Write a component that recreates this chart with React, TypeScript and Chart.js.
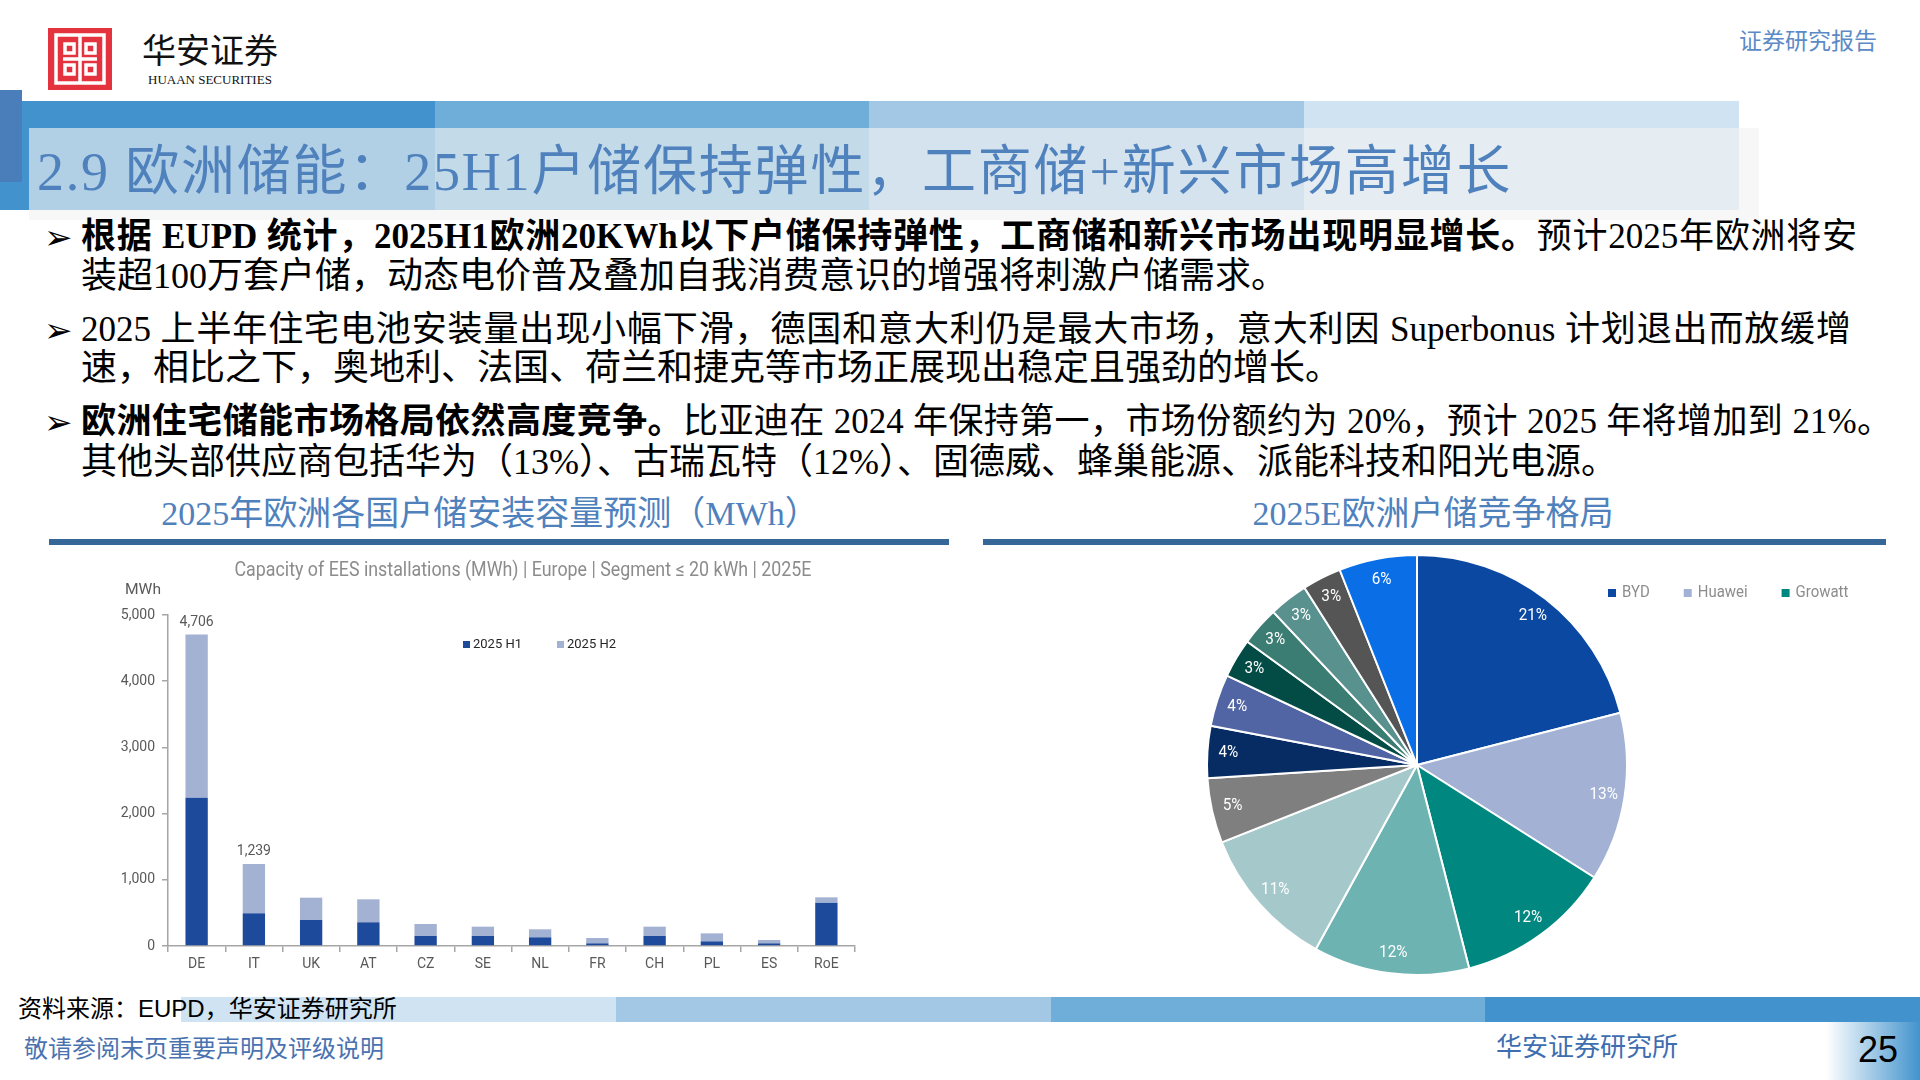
import React, { useEffect, useRef } from 'react';
import { Chart, registerables } from 'chart.js';

Chart.register(...registerables);

// ---------- Bar chart data ----------
const countries = ['DE', 'IT', 'UK', 'AT', 'CZ', 'SE', 'NL', 'FR', 'CH', 'PL', 'ES', 'RoE'];
const h1Values = [2240, 494, 393, 358, 151, 151, 131, 40, 151, 70, 40, 655];
const h2Values = [2466, 745, 337, 347, 181, 141, 121, 81, 141, 121, 51, 80];
const seriesNames = ['2025 H1', '2025 H2'];
const annotatedCountries = ['DE', 'IT'];
const yMax = 5000;
const yStep = 1000;
const barTitle = 'Capacity of EES installations (MWh) | Europe | Segment \u2264 20 kWh | 2025E';
const yUnit = 'MWh';

// ---------- Pie chart data ----------
const vendors = ['BYD', 'Huawei', 'Growatt', 'Vendor 4', 'Vendor 5', 'Vendor 6', 'Vendor 7', 'Vendor 8', 'Vendor 9', 'Vendor 10', 'Vendor 11', 'Vendor 12', 'Others'];
const shares = [21, 13, 12, 12, 11, 5, 4, 4, 3, 3, 3, 3, 6];
const legendVendors = ['BYD', 'Huawei', 'Growatt'];

const barColors = ['#1E4A9B', '#A3B1D2'];
const pieColors = ['#0B48A2', '#A3B2D4', '#00877F', '#6DB3B1', '#A5C8CA', '#7F7F7F', '#062C63', '#5165A5', '#024C45', '#3B7C73', '#59918F', '#555555', '#0A6FE6'];

const serif = '"Liberation Serif", "Noto Sans CJK SC", serif';
const sans = '"Liberation Sans", "Noto Sans CJK SC", sans-serif';
const cjk = '"Noto Sans CJK SC", sans-serif';

function fitText(ctx: CanvasRenderingContext2D, text: string, x: number, y: number, width: number) {
  const w = ctx.measureText(text).width;
  ctx.save();
  ctx.translate(x, y);
  ctx.scale(width / w, 1);
  ctx.fillText(text, 0, 0);
  ctx.restore();
}

const barExtras = {
  id: 'barExtras',
  afterDraw(chart: any) {
    const ctx: CanvasRenderingContext2D = chart.ctx;
    const area = chart.chartArea;
    ctx.save();
    ctx.textBaseline = 'middle';
    // chart title
    ctx.fillStyle = '#8C8C8C';
    ctx.font = '20px Roboto';
    ctx.textAlign = 'center';
    fitText(ctx, barTitle, area.left + 355, 21, 577);
    // unit
    ctx.fillStyle = '#595959';
    ctx.font = '15px Roboto';
    ctx.textAlign = 'left';
    fitText(ctx, yUnit, 25, 40, 36);
    // total labels
    ctx.textAlign = 'center';
    ctx.font = '14px Roboto';
    const meta = chart.getDatasetMeta(1);
    annotatedCountries.forEach((c) => {
      const i = countries.indexOf(c);
      const el = meta.data[i];
      const total = h1Values[i] + h2Values[i];
      ctx.fillText(total.toLocaleString('en-US'), el.x, el.y - 12);
    });
    // legend
    ctx.textAlign = 'left';
    ctx.font = '13px Roboto';
    let lx = area.left + 295;
    const ly = area.top + 30;
    seriesNames.forEach((name, k) => {
      ctx.fillStyle = barColors[k];
      ctx.fillRect(lx, ly - 4, 7, 7);
      ctx.fillStyle = '#262626';
      ctx.fillText(name, lx + 10, ly);
      lx += 94;
    });
    ctx.restore();
  },
};

const pieExtras = {
  id: 'pieExtras',
  afterDraw(chart: any) {
    const ctx: CanvasRenderingContext2D = chart.ctx;
    const meta = chart.getDatasetMeta(0);
    ctx.save();
    ctx.textBaseline = 'middle';
    ctx.textAlign = 'center';
    ctx.font = '17px Roboto';
    ctx.fillStyle = '#FFFFFF';
    meta.data.forEach((arc: any, i: number) => {
      const p = arc.getProps(['x', 'y', 'startAngle', 'endAngle', 'outerRadius']);
      const mid = (p.startAngle + p.endAngle) / 2;
      const r = p.outerRadius * 0.9;
      const tx = p.x + Math.cos(mid) * r;
      const ty = p.y + Math.sin(mid) * r;
      fitText(ctx, shares[i] + '%', tx, ty, ctx.measureText(shares[i] + '%').width * 0.9);
    });
    // legend
    ctx.textAlign = 'left';
    ctx.font = '17px Roboto';
    let lx = 458;
    const ly = 48;
    legendVendors.forEach((name) => {
      const idx = vendors.indexOf(name);
      ctx.fillStyle = pieColors[idx];
      ctx.fillRect(lx, ly - 4, 8, 8);
      ctx.fillStyle = '#8C8C8C';
      const w = ctx.measureText(name).width * 0.88;
      fitText(ctx, name, lx + 14, ly, w);
      lx += 14 + w + 34;
    });
    ctx.restore();
  },
};

function BarChart() {
  const ref = useRef<HTMLCanvasElement>(null);
  useEffect(() => {
    const canvas = ref.current as HTMLCanvasElement;
    const chart = new Chart(canvas, {
      type: 'bar',
      data: {
        labels: countries,
        datasets: [
          { label: seriesNames[0], data: h1Values, backgroundColor: barColors[0], barPercentage: 0.39, categoryPercentage: 1 },
          { label: seriesNames[1], data: h2Values, backgroundColor: barColors[1], barPercentage: 0.39, categoryPercentage: 1 },
        ],
      },
      options: {
        animation: false,
        responsive: false,
        layout: { padding: { top: 65, right: 15, left: 0, bottom: 0 } },
        plugins: { legend: { display: false }, title: { display: false }, tooltip: { enabled: false } },
        scales: {
          x: {
            stacked: true,
            grid: { display: true, drawOnChartArea: false, offset: true, tickLength: 6, color: '#A6A6A6', lineWidth: 1.5 },
            border: { color: '#A6A6A6', width: 1.5 },
            ticks: { color: '#595959', font: { size: 14, family: 'Roboto' }, padding: 4 },
            afterFit: (s: any) => { s.height = 34; },
          },
          y: {
            stacked: true,
            min: 0,
            max: yMax,
            grid: { drawOnChartArea: false, tickLength: 6, color: '#A6A6A6', lineWidth: 1.5 },
            border: { color: '#A6A6A6', width: 1.5 },
            ticks: {
              stepSize: yStep,
              color: '#595959',
              font: { size: 14, family: 'Roboto' },
              padding: 7,
              callback: (v: any) => Number(v).toLocaleString('en-US'),
            },
            afterFit: (s: any) => { s.width = 68; },
          },
        },
      },
      plugins: [barExtras],
    } as any);
    return () => chart.destroy();
  }, []);
  return <canvas ref={ref} width={770} height={430} style={{ position: 'absolute', left: 100, top: 550, width: 770, height: 430 }} />;
}

function PieChart() {
  const ref = useRef<HTMLCanvasElement>(null);
  useEffect(() => {
    const canvas = ref.current as HTMLCanvasElement;
    const chart = new Chart(canvas, {
      type: 'pie',
      data: {
        labels: vendors,
        datasets: [{ data: shares, backgroundColor: pieColors, borderColor: '#FFFFFF', borderWidth: 2 }],
      },
      options: {
        animation: false,
        responsive: false,
        radius: 210,
        layout: { padding: { left: 0, top: 0, right: 226, bottom: 10 } },
        plugins: { legend: { display: false }, tooltip: { enabled: false } },
      },
      plugins: [pieExtras],
    } as any);
    return () => chart.destroy();
  }, []);
  return <canvas ref={ref} width={760} height={450} style={{ position: 'absolute', left: 1150, top: 545, width: 760, height: 450 }} />;
}

function Logo() {
  return (
    <svg width={64} height={62} viewBox="0 0 64 62" style={{ position: 'absolute', left: 48, top: 28 }}>
      <rect x={0} y={0} width={64} height={62} fill="#E5323F" />
      <g fill="none" stroke="#FFFFFF" strokeWidth={3.5}>
        <rect x={8} y={7} width={48} height={48} />
        <line x1={32} y1={7} x2={32} y2={55} />
        <line x1={15} y1={31} x2={49} y2={31} />
        <rect x={17} y={16} width={9} height={9} />
        <rect x={38} y={16} width={9} height={9} />
        <rect x={17} y={37} width={9} height={9} />
        <rect x={38} y={37} width={9} height={9} />
      </g>
    </svg>
  );
}

const abs = (l: number, t: number, w: number, h: number, bg: string): React.CSSProperties => ({
  position: 'absolute', left: l, top: t, width: w, height: h, background: bg,
});

function Line(props: { center: number; width?: number; justify?: boolean; children: React.ReactNode }) {
  return (
    <div
      style={{
        position: 'absolute', left: 81, top: props.center - 20, width: props.width ?? 1800, height: 40,
        lineHeight: '40px', fontSize: props.justify ? 35 : 36, fontFamily: serif, color: '#000',
        textAlign: props.justify ? 'justify' : 'left',
        textAlignLast: props.justify ? 'justify' : 'auto',
      } as React.CSSProperties}
    >
      {props.children}
    </div>
  );
}

function Arrow(props: { center: number }) {
  return (
    <div style={{ position: 'absolute', left: 44, top: props.center - 20, fontSize: 34, lineHeight: '40px', fontFamily: '"DejaVu Sans", sans-serif', color: '#000' }}>
      {'\u27A2'}
    </div>
  );
}

export default function App() {
  const b: React.CSSProperties = { fontWeight: 700 };
  return (
    <div style={{ position: 'absolute', left: 0, top: 0, width: 1920, height: 1080, background: '#FFFFFF', overflow: 'hidden', fontFamily: sans }}>
      {/* header */}
      <Logo />
      <div style={{ position: 'absolute', left: 142, top: 30, fontSize: 34, lineHeight: '38px', fontFamily: cjk, color: '#111', letterSpacing: 0 }}>华安证券</div>
      <div style={{ position: 'absolute', left: 148, top: 72, fontSize: 13, lineHeight: '16px', fontFamily: '"Liberation Serif", serif', color: '#111' }}>HUAAN SECURITIES</div>
      <div style={{ position: 'absolute', left: 1739, top: 25, fontSize: 23, lineHeight: '28px', fontFamily: cjk, color: '#5B8AC6' }}>证券研究报告</div>

      {/* title strip */}
      <div style={abs(0, 101, 435, 109, '#4293CD')} />
      <div style={abs(435, 101, 434, 109, '#6FAED9')} />
      <div style={abs(869, 101, 435, 109, '#A2C8E5')} />
      <div style={abs(1304, 101, 435, 109, '#CFE3F2')} />
      <div style={abs(0, 90, 22, 92, '#4A7EBB')} />
      <div style={abs(29, 128, 1730, 92, 'rgba(243,243,243,0.64)')} />
      <div style={{ position: 'absolute', left: 37, top: 142, fontSize: 54, lineHeight: '60px', fontFamily: serif, color: '#4F81BD', letterSpacing: 1.8, whiteSpace: 'nowrap' }}>
        2.9 欧洲储能：25H1户储保持弹性，工商储+新兴市场高增长
      </div>

      {/* bullets */}
      <Arrow center={237} />
      <Line center={237} width={1776} justify>
        <span style={b}>根据 EUPD 统计，2025H1欧洲20KWh以下户储保持弹性，工商储和新兴市场出现明显增长。</span>预计2025年欧洲将安
      </Line>
      <Line center={276}>装超100万套户储，动态电价普及叠加自我消费意识的增强将刺激户储需求。</Line>
      <Arrow center={330} />
      <Line center={330} width={1770} justify>
        2025 上半年住宅电池安装量出现小幅下滑，德国和意大利仍是最大市场，意大利因 Superbonus 计划退出而放缓增
      </Line>
      <Line center={368}>速，相比之下，奥地利、法国、荷兰和捷克等市场正展现出稳定且强劲的增长。</Line>
      <Arrow center={422} />
      <Line center={422} width={1811} justify>
        <span style={b}>欧洲住宅储能市场格局依然高度竞争。</span>比亚迪在 2024 年保持第一，市场份额约为 20%，预计 2025 年将增加到 21%。
      </Line>
      <Line center={462}>其他头部供应商包括华为（13%）、古瑞瓦特（12%）、固德威、蜂巢能源、派能科技和阳光电源。</Line>

      {/* section headers */}
      <div style={{ position: 'absolute', left: 90, width: 800, top: 495, lineHeight: '38px', fontSize: 34, textAlign: 'center', fontFamily: serif, color: '#4F81BD' }}>
        2025年欧洲各国户储安装容量预测（MWh）
      </div>
      <div style={abs(49, 539, 900, 6, '#356799')} />
      <div style={{ position: 'absolute', left: 1033, width: 800, top: 495, lineHeight: '38px', fontSize: 34, textAlign: 'center', fontFamily: serif, color: '#4F81BD' }}>
        2025E欧洲户储竞争格局
      </div>
      <div style={abs(983, 539, 903, 6, '#356799')} />

      <BarChart />
      <PieChart />

      {/* footer */}
      <div style={abs(181, 997, 435, 25, '#CFE3F2')} />
      <div style={abs(616, 997, 435, 25, '#A2C8E5')} />
      <div style={abs(1051, 997, 434, 25, '#6FAED9')} />
      <div style={abs(1485, 997, 435, 25, '#4293CD')} />
      <div style={{ position: 'absolute', left: 18, top: 994, fontSize: 24, lineHeight: '30px', fontFamily: sans, color: '#000', whiteSpace: 'nowrap' }}>资料来源：EUPD，华安证券研究所</div>
      <div style={{ position: 'absolute', left: 24, top: 1033, fontSize: 24, lineHeight: '28px', fontFamily: cjk, color: '#4A72B0', whiteSpace: 'nowrap' }}>敬请参阅末页重要声明及评级说明</div>
      <div style={{ position: 'absolute', left: 1496, top: 1030, fontSize: 26, lineHeight: '30px', fontFamily: cjk, color: '#3E6DB0', whiteSpace: 'nowrap' }}>华安证券研究所</div>
      <div style={{ position: 'absolute', left: 1826, top: 1022, width: 94, height: 58, background: 'linear-gradient(to right, #FFFFFF, #4293CD)' }} />
      <div style={{ position: 'absolute', left: 1858, top: 1030, fontSize: 36, lineHeight: '40px', fontFamily: '"Liberation Sans", sans-serif', color: '#000' }}>25</div>
    </div>
  );
}
